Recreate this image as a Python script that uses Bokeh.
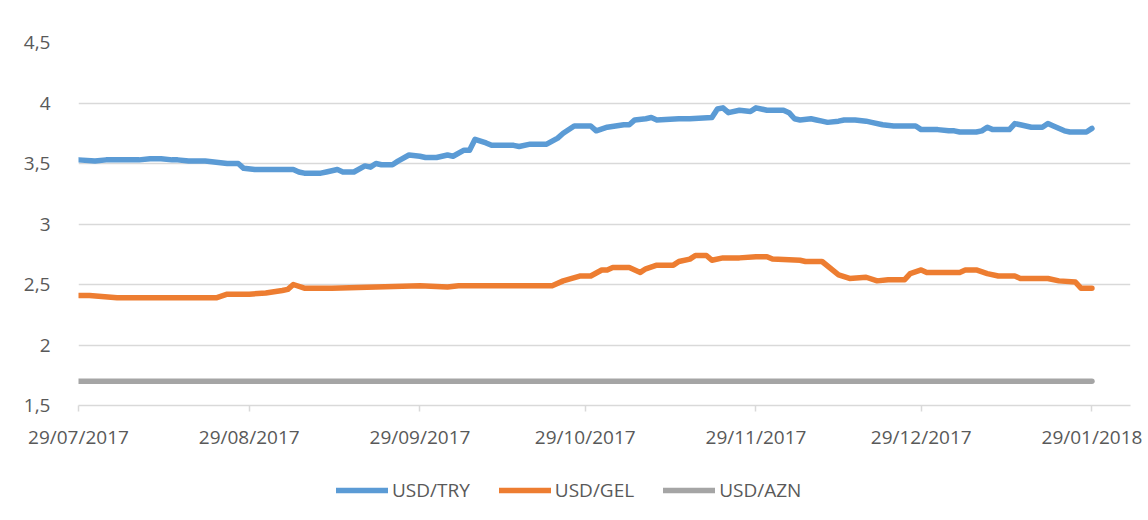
import pandas as pd
from bokeh.plotting import figure
from bokeh.layouts import column
from bokeh.models import (FixedTicker, DatetimeTickFormatter, Range1d, Legend,
                          LegendItem, ColumnDataSource)
from bokeh.embed import file_html
from bokeh.resources import INLINE

# ---------------- data ----------------
try_dates = ["2017-07-29", "2017-08-01", "2017-08-03", "2017-08-05", "2017-08-09", "2017-08-11",
             "2017-08-13", "2017-08-15", "2017-08-16", "2017-08-18", "2017-08-21", "2017-08-23",
             "2017-08-25", "2017-08-27", "2017-08-28", "2017-08-30", "2017-09-06", "2017-09-07",
             "2017-09-08", "2017-09-11", "2017-09-12", "2017-09-14", "2017-09-15", "2017-09-17",
             "2017-09-19", "2017-09-20", "2017-09-21", "2017-09-22", "2017-09-24", "2017-09-25",
             "2017-09-27", "2017-09-29", "2017-09-30", "2017-10-02", "2017-10-04", "2017-10-05",
             "2017-10-07", "2017-10-08", "2017-10-09", "2017-10-11", "2017-10-12", "2017-10-16",
             "2017-10-17", "2017-10-19", "2017-10-22", "2017-10-24", "2017-10-25", "2017-10-27",
             "2017-10-30", "2017-10-31", "2017-11-02", "2017-11-05", "2017-11-06", "2017-11-07",
             "2017-11-09", "2017-11-10", "2017-11-11", "2017-11-15", "2017-11-17", "2017-11-21",
             "2017-11-22", "2017-11-23", "2017-11-24", "2017-11-26", "2017-11-28", "2017-11-29",
             "2017-12-01", "2017-12-04", "2017-12-05", "2017-12-06", "2017-12-07", "2017-12-09",
             "2017-12-10", "2017-12-11", "2017-12-12", "2017-12-14", "2017-12-15", "2017-12-17",
             "2017-12-19", "2017-12-20", "2017-12-22", "2017-12-24", "2017-12-26", "2017-12-27",
             "2017-12-28", "2017-12-29", "2018-01-01", "2018-01-03", "2018-01-04", "2018-01-05",
             "2018-01-08", "2018-01-09", "2018-01-10", "2018-01-11", "2018-01-14", "2018-01-15",
             "2018-01-16", "2018-01-18", "2018-01-20", "2018-01-21", "2018-01-22", "2018-01-24",
             "2018-01-25", "2018-01-28", "2018-01-29"]
try_values = [3.53, 3.52, 3.53, 3.53, 3.53, 3.54,
              3.54, 3.53, 3.53, 3.52, 3.52, 3.51,
              3.50, 3.50, 3.46, 3.45, 3.45, 3.43,
              3.42, 3.42, 3.43, 3.45, 3.43, 3.43,
              3.48, 3.47, 3.50, 3.49, 3.49, 3.52,
              3.57, 3.56, 3.55, 3.55, 3.57, 3.56,
              3.61, 3.61, 3.70, 3.67, 3.65, 3.65,
              3.64, 3.66, 3.66, 3.71, 3.75, 3.81,
              3.81, 3.77, 3.80, 3.82, 3.82, 3.86,
              3.87, 3.88, 3.86, 3.87, 3.87, 3.88,
              3.95, 3.96, 3.92, 3.94, 3.93, 3.96,
              3.94, 3.94, 3.92, 3.87, 3.86, 3.87,
              3.86, 3.85, 3.84, 3.85, 3.86, 3.86,
              3.85, 3.84, 3.82, 3.81, 3.81, 3.81,
              3.81, 3.78, 3.78, 3.77, 3.77, 3.76,
              3.76, 3.77, 3.80, 3.78, 3.78, 3.83,
              3.82, 3.80, 3.80, 3.83, 3.81, 3.77,
              3.76, 3.76, 3.79]

gel_dates = ["2017-07-29", "2017-07-31", "2017-08-05", "2017-08-23", "2017-08-25", "2017-08-29",
             "2017-09-01", "2017-09-04", "2017-09-05", "2017-09-06", "2017-09-08", "2017-09-13",
             "2017-09-21", "2017-09-29", "2017-10-04", "2017-10-06", "2017-10-13", "2017-10-23",
             "2017-10-25", "2017-10-28", "2017-10-30", "2017-11-01", "2017-11-02", "2017-11-03",
             "2017-11-06", "2017-11-08", "2017-11-09", "2017-11-11", "2017-11-14", "2017-11-15",
             "2017-11-17", "2017-11-18", "2017-11-20", "2017-11-21", "2017-11-23", "2017-11-26",
             "2017-11-29", "2017-12-01", "2017-12-02", "2017-12-07", "2017-12-08", "2017-12-11",
             "2017-12-14", "2017-12-16", "2017-12-19", "2017-12-21", "2017-12-23", "2017-12-26",
             "2017-12-27", "2017-12-29", "2017-12-30", "2018-01-05", "2018-01-06", "2018-01-08",
             "2018-01-10", "2018-01-12", "2018-01-15", "2018-01-16", "2018-01-21", "2018-01-23",
             "2018-01-26", "2018-01-27", "2018-01-29"]
gel_values = [2.41, 2.41, 2.39, 2.39, 2.42, 2.42,
              2.43, 2.45, 2.46, 2.50, 2.47, 2.47,
              2.48, 2.49, 2.48, 2.49, 2.49, 2.49,
              2.53, 2.57, 2.57, 2.62, 2.62, 2.64,
              2.64, 2.60, 2.63, 2.66, 2.66, 2.69,
              2.71, 2.74, 2.74, 2.70, 2.72, 2.72,
              2.73, 2.73, 2.71, 2.70, 2.69, 2.69,
              2.58, 2.55, 2.56, 2.53, 2.54, 2.54,
              2.59, 2.62, 2.60, 2.60, 2.62, 2.62,
              2.59, 2.57, 2.57, 2.55, 2.55, 2.53,
              2.52, 2.47, 2.47]

azn_dates = ["2017-07-29", "2017-08-29", "2017-09-29", "2017-10-29", "2017-11-29",
             "2017-12-29", "2018-01-29"]
azn_values = [1.70, 1.70, 1.70, 1.70, 1.70, 1.70, 1.70]

tick_labels = ["29/07/2017", "29/08/2017", "29/09/2017", "29/10/2017",
               "29/11/2017", "29/12/2017", "29/01/2018"]
y_ticks = [1.5, 2, 2.5, 3, 3.5, 4, 4.5]
series_names = ["USD/TRY", "USD/GEL", "USD/AZN"]
series_colors = ["#5B9BD5", "#ED7D31", "#A5A5A5"]

# ---------------- figure ----------------
FONT = "Open Sans"
TXT = "#595959"
GRID = "#D9D9D9"

x_start = pd.Timestamp("2017-07-29")
x_end = pd.Timestamp("2018-02-05")

p = figure(frame_width=1052, frame_height=363, x_axis_type="datetime",
           output_backend="svg", toolbar_location=None,
           x_range=Range1d(x_start, x_end), y_range=Range1d(1.5, 4.5),
           min_border_left=78, min_border_right=18, min_border_top=42,
           min_border_bottom=50)
p.outline_line_color = None
p.background_fill_color = "white"
p.border_fill_color = "white"

tick_dates = [pd.to_datetime(t, format="%d/%m/%Y") for t in tick_labels]
tick_ms = [t.value / 1e6 for t in tick_dates]

xa = p.xaxis[0]
xa.ticker = FixedTicker(ticks=tick_ms)
xa.formatter = DatetimeTickFormatter(days="%d/%m/%Y", months="%d/%m/%Y", years="%d/%m/%Y",
                                     hours="%d/%m/%Y", minutes="%d/%m/%Y", seconds="%d/%m/%Y",
                                     milliseconds="%d/%m/%Y", microseconds="%d/%m/%Y")
xa.axis_line_color = GRID
xa.axis_line_width = 1.5
xa.major_tick_line_color = GRID
xa.major_tick_line_width = 1.5
xa.major_tick_out = 6
xa.major_tick_in = 0
xa.minor_tick_out = 0
xa.minor_tick_in = 0
xa.major_label_standoff = 12
xa.major_label_text_font = FONT
xa.major_label_text_font_size = "19px"
xa.major_label_text_color = TXT

ya = p.yaxis[0]
ya.ticker = FixedTicker(ticks=y_ticks)
ya.major_label_overrides = {t: (str(t).replace(".", ",") if t != int(t) else str(int(t)))
                            for t in y_ticks}
ya.axis_line_color = None
ya.major_tick_line_color = None
ya.minor_tick_line_color = None
ya.major_label_standoff = 22
ya.major_label_text_font = FONT
ya.major_label_text_font_size = "19px"
ya.major_label_text_color = TXT

p.xgrid.grid_line_color = None
p.ygrid.grid_line_color = GRID
p.ygrid.grid_line_width = 1.5

for dates, vals, color in [(try_dates, try_values, series_colors[0]),
                           (gel_dates, gel_values, series_colors[1]),
                           (azn_dates, azn_values, series_colors[2])]:
    src = ColumnDataSource(dict(x=pd.to_datetime(dates), y=vals))
    p.line("x", "y", source=src, line_color=color, line_width=5.5,
           line_join="round", line_cap="round")

# ---------------- legend strip below the chart ----------------
lf = figure(width=1148, height=65, output_backend="svg", toolbar_location=None,
            x_range=Range1d(0, 1), y_range=Range1d(0, 1),
            min_border_left=0, min_border_right=0, min_border_top=0, min_border_bottom=0)
lf.axis.visible = False
lf.grid.visible = False
lf.outline_line_color = None
lf.border_fill_color = "white"
lf.background_fill_color = "white"

# off-range stand-in lines: they only provide the legend swatches
legend_renderers = [lf.line(x=[-2, -1], y=[-2, -2], line_color=c, line_width=5.5,
                            line_cap="round")
                    for c in series_colors]
legend = Legend(items=[LegendItem(label=n, renderers=[r])
                       for n, r in zip(series_names, legend_renderers)],
                orientation="horizontal", location=(258, 17),
                glyph_width=52, glyph_height=20, label_standoff=4, spacing=29,
                padding=0, margin=0, border_line_color=None, background_fill_alpha=0,
                label_text_font=FONT, label_text_font_size="19px", label_text_color=TXT,
                label_height=26)
lf.add_layout(legend, "center")

layout = column(p, lf, spacing=0)
open("out.html", "w").write(file_html(layout, INLINE))
